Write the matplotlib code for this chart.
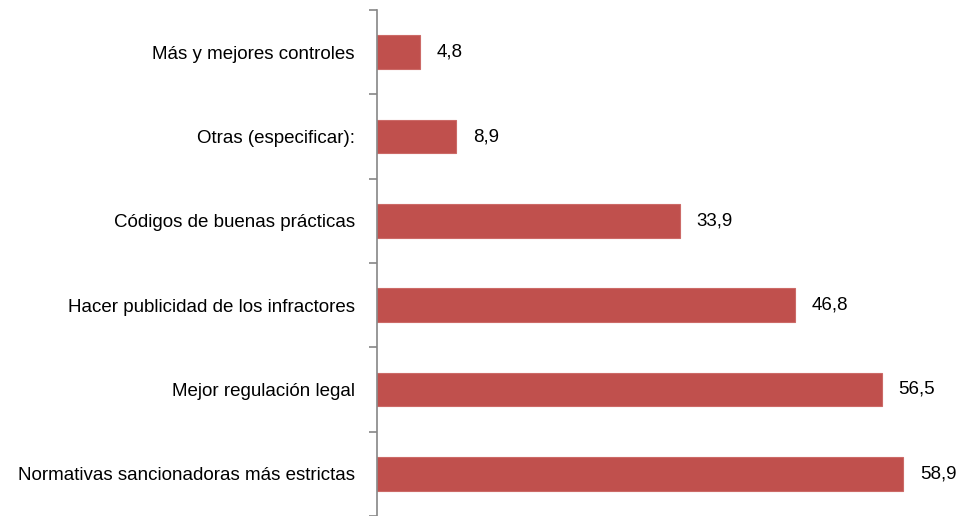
import matplotlib
matplotlib.use("Agg")
import matplotlib.pyplot as plt

categories = [
    "Más y mejores controles",
    "Otras (especificar):",
    "Códigos de buenas prácticas",
    "Hacer publicidad de los infractores",
    "Mejor regulación legal",
    "Normativas sancionadoras más estrictas",
]
values = [4.8, 8.9, 33.9, 46.8, 56.5, 58.9]

W, H = 961, 516
fig = plt.figure(figsize=(W / 100, H / 100), dpi=100)
ax_left = 377 / W
ax_top = 10 / H
xmax = 65
px_per_unit = (903 - 377) / 58.9
ax_w = xmax * px_per_unit / W
ax = fig.add_axes([ax_left, 0, ax_w, 1 - ax_top])

color = "#C0504D"
ypos = list(range(len(categories)))
ax.barh(ypos, values, height=0.4, color=color, edgecolor="#CC6A67", linewidth=0.8)
ax.set_ylim(len(categories) - 0.5, -0.5)
ax.set_xlim(0, xmax)

fs = 13.5
font = "Liberation Sans"
for y, v in zip(ypos, values):
    ax.annotate(f"{v:.1f}".replace(".", ","), xy=(v, y), xytext=(17, 0),
                textcoords="offset pixels", va="center", ha="left",
                fontsize=fs, family=font, color="black")

ax.set_yticks([i - 0.5 for i in range(len(categories) + 1)])
ax.set_yticklabels([])
ax.set_yticks(ypos, minor=True)
ax.set_yticklabels(categories, minor=True, fontsize=fs, family=font)
ax.tick_params(axis="y", which="major", length=6, width=1.2, color="#868686", direction="out")
ax.tick_params(axis="y", which="minor", length=0, pad=16)
ax.set_xticks([])
for s in ["top", "right", "bottom"]:
    ax.spines[s].set_visible(False)
ax.spines["left"].set_color("#868686")
ax.spines["left"].set_linewidth(1.2)

fig.savefig("out.png", dpi=100)
